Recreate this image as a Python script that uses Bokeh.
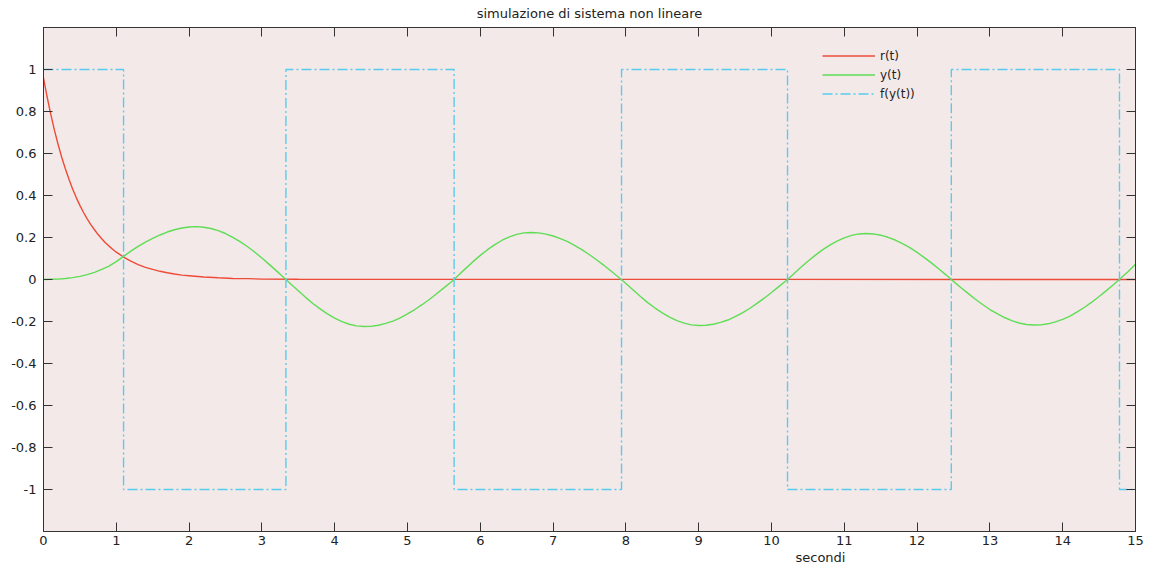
from bokeh.plotting import figure
from bokeh.models import Range1d, LinearAxis, FixedTicker, Title, Legend, LegendItem
from bokeh.embed import file_html
from bokeh.resources import INLINE

# ---------------- data ----------------
title_text = "simulazione di sistema non lineare"
x_label_text = "secondi"

# r(t): decaying reference
r_t = [0.0, 0.05, 0.1, 0.15, 0.2, 0.25, 0.3, 0.35, 0.4, 0.45, 0.5, 0.55, 0.6, 0.65,
       0.7, 0.75, 0.8, 0.85, 0.9, 0.95, 1.0, 1.1, 1.2, 1.3, 1.4, 1.5, 1.6, 1.7, 1.8,
       1.9, 2.0, 2.2, 2.4, 2.6, 2.8, 3.0, 3.5, 15.0]
r_v = [0.96, 0.869, 0.786, 0.711, 0.644, 0.582, 0.527, 0.477, 0.431, 0.390, 0.353,
       0.319, 0.289, 0.261, 0.237, 0.214, 0.194, 0.175, 0.159, 0.144, 0.130, 0.107,
       0.087, 0.071, 0.058, 0.048, 0.039, 0.032, 0.026, 0.021, 0.018, 0.012, 0.008,
       0.005, 0.004, 0.002, 0.001, 0.0]

# y(t): sampled every 0.1 s from 0 to 15 s
y_v = [
    0.000, 0.001, 0.002, 0.005, 0.009, 0.015, 0.023, 0.034, 0.048, 0.064,   # 0.0-0.9
    0.085, 0.110, 0.135, 0.158, 0.178, 0.196, 0.212, 0.226, 0.237, 0.245,   # 1.0-1.9
    0.250, 0.252, 0.249, 0.243, 0.233, 0.219, 0.201, 0.180, 0.157, 0.131,   # 2.0-2.9
    0.102, 0.072, 0.041, 0.010, -0.023, -0.054, -0.085, -0.114, -0.140, -0.164,  # 3.0-3.9
    -0.184, -0.201, -0.213, -0.221, -0.224, -0.223, -0.218, -0.209, -0.198, -0.183,  # 4.0-4.9
    -0.164, -0.143, -0.120, -0.095, -0.068, -0.040, -0.012, 0.020, 0.053, 0.085,  # 5.0-5.9
    0.115, 0.142, 0.166, 0.187, 0.203, 0.215, 0.222, 0.224, 0.222, 0.216,   # 6.0-6.9
    0.207, 0.195, 0.180, 0.161, 0.141, 0.118, 0.093, 0.067, 0.039, 0.011,   # 7.0-7.9
    -0.019, -0.050, -0.081, -0.110, -0.136, -0.159, -0.179, -0.196, -0.208, -0.216,  # 8.0-8.9
    -0.219, -0.218, -0.213, -0.204, -0.193, -0.177, -0.159, -0.138, -0.114, -0.089,  # 9.0-9.9
    -0.062, -0.034, -0.006, 0.025, 0.057, 0.087, 0.115, 0.141, 0.164, 0.183,  # 10.0-10.9
    0.198, 0.210, 0.217, 0.219, 0.217, 0.211, 0.201, 0.188, 0.171, 0.152,   # 11.0-11.9
    0.129, 0.104, 0.078, 0.050, 0.021, -0.009, -0.038, -0.066, -0.094, -0.119,  # 12.0-12.9
    -0.143, -0.163, -0.181, -0.196, -0.207, -0.214, -0.217, -0.216, -0.211, -0.202,  # 13.0-13.9
    -0.190, -0.174, -0.154, -0.132, -0.108, -0.081, -0.053, -0.024, 0.007, 0.038,  # 14.0-14.9
    0.073,                                                                   # 15.0
]
y_t = [round(i * 0.1, 1) for i in range(len(y_v))]

# f(y(t)): relay output, switching instants and levels
f_t = [0.0, 1.1, 3.33, 5.64, 7.94, 10.22, 12.47, 14.78, 15.0]
f_v = [1, -1, 1, -1, 1, -1, 1, -1, -1]

series_names = ["r(t)", "y(t)", "f(y(t))"]

x_ticks = list(range(0, 16))
x_labels = [str(v) for v in x_ticks]
y_ticks = [-1.0, -0.8, -0.6, -0.4, -0.2, 0.0, 0.2, 0.4, 0.6, 0.8, 1.0]
y_labels = ["-1", "-0.8", "-0.6", "-0.4", "-0.2", "0", "0.2", "0.4", "0.6", "0.8", "1"]

# ---------------- figure ----------------
FONT = "DejaVu Sans"
p = figure(width=1152, height=570, output_backend="svg", toolbar_location=None,
           x_range=Range1d(0, 15), y_range=Range1d(-1.2, 1.2),
           min_border_left=43, min_border_right=17, min_border_top=27,
           min_border_bottom=39,
           background_fill_color="#F4E9E9", border_fill_color="white",
           outline_line_color="#333333", outline_line_width=1)
p.grid.visible = False

r_ren = p.line(r_t, r_v, line_color="#EE4B37", line_width=1.4)
y_ren = p.line(y_t, y_v, line_color="#5EDD55", line_width=1.4)
f_ren = p.step(f_t, f_v, mode="after", line_color="#58CCEE", line_width=1.4,
               line_dash="10 3 2 3")

def style_axis(ax, ticks, labels, show_labels):
    ax.ticker = FixedTicker(ticks=ticks)
    ax.major_tick_in = 9
    ax.major_tick_out = 0
    ax.minor_tick_line_color = None
    ax.axis_line_color = "#333333"
    ax.major_tick_line_color = "#333333"
    ax.major_label_text_font = FONT
    ax.major_label_text_font_size = "13px"
    ax.major_label_text_color = "#222222"
    if show_labels:
        ax.major_label_overrides = {t: s for t, s in zip(ticks, labels)}
    else:
        ax.major_label_overrides = {t: "" for t in ticks}
        ax.major_label_text_font_size = "1px"
        ax.major_label_standoff = 0

style_axis(p.xaxis[0], x_ticks, x_labels, True)
p.xaxis[0].major_label_standoff = 4
style_axis(p.yaxis[0], y_ticks, y_labels, True)
p.yaxis[0].major_label_standoff = 7

# top axis carries the chart title as its axis label (centred over the frame)
top_ax = LinearAxis()
style_axis(top_ax, x_ticks, x_labels, False)
top_ax.axis_label = title_text
top_ax.axis_label_text_font = FONT
top_ax.axis_label_text_font_size = "13px"
top_ax.axis_label_text_font_style = "normal"
top_ax.axis_label_text_color = "#222222"
top_ax.axis_label_standoff = 7
p.add_layout(top_ax, "above")

right_ax = LinearAxis()
style_axis(right_ax, y_ticks, y_labels, False)
p.add_layout(right_ax, "right")

# x label (sits right of centre in the reference)
p.add_layout(Title(text=x_label_text, align="left", offset=752, standoff=0,
                   text_font=FONT, text_font_size="13px", text_font_style="normal",
                   text_color="#222222"), "below")

legend = Legend(items=[LegendItem(label=series_names[0], renderers=[r_ren]),
                       LegendItem(label=series_names[1], renderers=[y_ren]),
                       LegendItem(label=series_names[2], renderers=[f_ren])],
                location=(779, 428), orientation="vertical",
                glyph_width=53, glyph_height=19, label_height=19, spacing=0,
                padding=0, margin=0, label_standoff=5,
                label_text_font=FONT, label_text_font_size="12px",
                label_text_color="#222222",
                background_fill_alpha=0, border_line_color=None)
p.add_layout(legend, "center")

open("out.html", "w").write(file_html(p, INLINE))
